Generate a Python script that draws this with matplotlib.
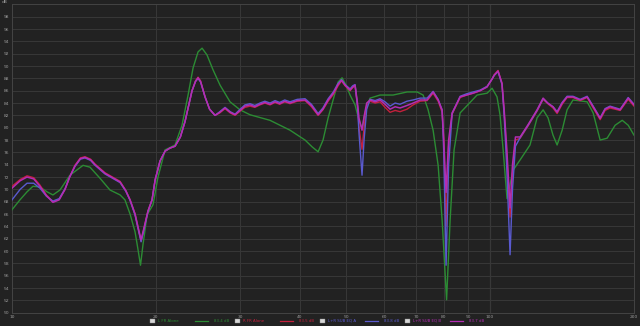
import matplotlib
matplotlib.use("Agg")
import matplotlib.pyplot as plt
from matplotlib.lines import Line2D
from matplotlib.patches import Rectangle

# Frequency grid (Hz) shared by the three EQ'd traces
freq_hz = [10.0, 10.4, 10.75, 11.1, 11.44, 11.8, 12.18, 12.55, 12.91, 13.2,
           13.54, 13.9, 14.21, 14.6, 14.92, 15.65, 16.83, 17.3, 17.66, 18.09,
           18.4, 18.62, 18.85, 19.25, 19.63, 19.92, 20.4, 20.9, 21.4, 21.93,
           22.5, 23.01, 23.4, 23.8, 24.2, 24.5, 24.8, 25.34, 25.9, 26.59,
           27.2, 27.9, 28.6, 29.28, 30.0, 30.7, 31.47, 32.2, 33.0, 33.8,
           34.65, 35.5, 36.3, 37.2, 38.15, 39.5, 41.02, 42.3, 43.68, 44.7,
           45.84, 47.0, 48.09, 48.9, 49.74, 50.95, 51.6, 52.19, 52.8, 53.2,
           53.97, 54.5, 55.2, 56.1, 57.5, 58.86, 60.3, 61.77, 63.3, 64.81,
           67.0, 69.02, 71.39, 73.84, 76.0, 77.87, 79.38, 80.0, 80.9, 81.9,
           83.29, 86.56, 89.3, 92.13, 95.3, 98.56, 100.97, 102.0, 103.9, 105.9,
           107.0, 108.3, 110.1, 111.4, 113.0, 115.6, 120.1, 125.4, 129.1, 132.0,
           135.4, 138.1, 141.5, 144.9, 149.1, 154.3, 159.6, 164.3, 169.9, 174.0,
           178.2, 187.1, 194.5, 200.0]

purple_db = [70.2, 71.4, 72.0, 71.7, 70.5, 69.0, 67.9, 68.3, 70.0, 72.0,
             73.8, 75.0, 75.2, 74.8, 74.0, 72.6, 71.2, 69.8, 68.3, 66.0,
             63.5, 61.8, 63.5, 66.5, 68.3, 71.5, 74.6, 76.2, 76.7, 77.0,
             78.5, 81.0, 83.5, 86.0, 87.5, 88.1, 87.5, 85.0, 83.0, 82.0,
             82.5, 83.2, 82.5, 82.1, 82.8, 83.5, 83.7, 83.4, 83.8, 84.1,
             83.8, 84.2, 83.9, 84.3, 84.0, 84.4, 84.5, 83.6, 82.1, 83.0,
             84.5, 85.6, 87.0, 87.7, 86.9, 86.1, 86.6, 86.9, 84.0, 81.5,
             79.6, 81.8, 84.0, 84.5, 84.2, 84.5, 83.8, 83.0, 83.4, 83.2,
             83.6, 84.0, 84.5, 84.5, 85.8, 84.5, 82.9, 78.0, 69.5, 78.0,
             82.4, 85.0, 85.3, 85.6, 86.0, 86.6, 87.9, 88.5, 89.2, 87.2,
             83.0, 77.0, 67.0, 74.0, 78.5, 78.5, 80.5, 82.9, 84.8, 84.0,
             83.4, 82.5, 84.0, 85.0, 85.0, 84.5, 85.0, 83.4, 81.5, 83.0,
             83.4, 82.9, 84.8, 83.7]

red_db = [70.5, 71.6, 72.2, 71.9, 70.7, 69.1, 68.0, 68.4, 70.0, 72.0,
          73.9, 75.1, 75.3, 74.9, 74.1, 72.7, 71.3, 69.8, 68.3, 66.0,
          63.4, 61.6, 63.4, 66.5, 68.3, 71.5, 74.6, 76.2, 76.7, 77.0,
          78.5, 81.0, 83.5, 86.0, 87.6, 88.2, 87.6, 85.0, 83.0, 82.0,
          82.4, 83.1, 82.4, 82.0, 82.7, 83.3, 83.5, 83.3, 83.7, 84.0,
          83.7, 84.1, 83.8, 84.2, 83.9, 84.3, 84.4, 83.4, 82.0, 82.9,
          84.3, 85.4, 86.8, 87.6, 86.8, 86.0, 86.5, 86.8, 83.5, 80.0,
          76.5, 80.0, 83.6, 84.3, 84.0, 84.2, 83.3, 82.5, 82.8, 82.6,
          83.0, 83.7, 84.3, 84.4, 85.6, 84.3, 82.5, 78.0, 64.0, 77.0,
          82.2, 84.9, 85.3, 85.6, 86.0, 86.7, 87.9, 88.6, 89.3, 87.2,
          82.5, 76.0, 65.5, 72.5, 78.0, 78.3, 80.3, 82.7, 84.6, 83.9,
          83.2, 82.3, 83.8, 84.9, 84.9, 84.4, 84.9, 83.2, 81.3, 82.8,
          83.2, 82.8, 84.6, 83.5]

blue_db = [68.3, 70.0, 71.0, 71.0, 70.2, 68.9, 68.1, 68.5, 70.1, 72.0,
           73.7, 74.9, 75.1, 74.7, 73.9, 72.5, 71.1, 69.7, 68.2, 65.8,
           63.2, 61.5, 63.2, 66.4, 68.3, 71.5, 74.6, 76.2, 76.7, 77.0,
           78.5, 81.0, 83.5, 86.0, 87.5, 88.0, 87.4, 85.0, 83.0, 82.0,
           82.6, 83.3, 82.6, 82.2, 83.0, 83.7, 83.9, 83.6, 84.0, 84.3,
           84.0, 84.4, 84.1, 84.5, 84.2, 84.6, 84.7, 83.8, 82.3, 83.2,
           84.7, 85.8, 87.2, 87.8, 87.0, 86.3, 86.8, 87.0, 83.5, 79.0,
           72.3, 78.0, 83.0, 84.6, 84.4, 84.7, 84.2, 83.5, 84.0, 83.8,
           84.3, 84.5, 84.8, 84.8, 85.9, 84.6, 82.8, 76.0, 57.7, 74.0,
           82.3, 85.1, 85.5, 85.8, 86.1, 86.7, 87.9, 88.5, 89.1, 87.0,
           82.0, 74.0, 59.4, 70.0, 77.0, 78.4, 80.4, 82.8, 84.7, 84.0,
           83.4, 82.6, 84.1, 85.1, 85.1, 84.6, 85.1, 83.5, 81.6, 83.1,
           83.5, 83.0, 84.9, 83.8]

# Un-EQ'd measurement has its own frequency points
green_hz = [10.0, 10.39, 10.75, 11.06, 11.44, 11.84, 12.18, 12.6, 13.22, 14.08,
            14.56, 15.28, 16.03, 16.83, 17.23, 17.66, 18.09, 18.35, 18.57, 18.79,
            19.17, 19.72, 20.2, 20.9, 21.93, 22.68, 23.35, 23.92, 24.5, 24.98,
            25.58, 26.33, 27.24, 28.58, 29.99, 31.47, 34.65, 38.15, 41.02, 42.43,
            43.68, 44.73, 45.84, 46.95, 48.09, 49.02, 49.97, 50.95, 52.19, 53.2,
            53.97, 55.03, 56.1, 58.86, 62.68, 67.06, 70.36, 72.43, 74.19, 76.0,
            77.87, 79.38, 81.1, 82.49, 84.08, 86.56, 93.92, 98.56, 100.97, 103.4,
            104.9, 106.5, 108.5, 111.7, 115.6, 121.2, 125.4, 129.1, 132.2, 135.4,
            138.1, 141.5, 144.9, 149.1, 159.6, 164.3, 169.9, 175.7, 182.6, 189.0,
            194.5, 200.0]
green_db = [66.7, 68.3, 69.6, 70.5, 70.4, 69.6, 69.1, 69.9, 72.3, 73.9,
            73.6, 71.8, 69.9, 69.1, 68.3, 66.0, 63.1, 60.2, 57.7, 61.0,
            65.9, 67.5, 72.0, 76.4, 77.2, 80.4, 85.3, 89.7, 92.3, 92.9,
            91.8, 89.4, 86.9, 84.2, 82.9, 82.1, 81.2, 79.6, 78.0, 76.9,
            76.1, 78.0, 81.6, 84.5, 87.4, 88.1, 86.9, 85.3, 83.7, 81.2,
            79.9, 83.2, 84.8, 85.3, 85.3, 85.8, 85.8, 85.3, 82.9, 79.6,
            73.9, 65.0, 52.1, 65.0, 76.4, 82.4, 85.3, 85.6, 86.4, 85.0,
            82.1, 76.4, 68.5, 73.1, 74.8, 77.2, 81.6, 82.9, 81.6, 78.8,
            77.2, 79.6, 82.9, 84.5, 84.2, 82.4, 78.0, 78.3, 80.4, 81.2,
            80.4, 78.8]

x_ticks = [10, 20, 30, 40, 50, 60, 70, 80, 90, 100, 200]
y_ticks = list(range(50, 100, 2))

legend_labels = ["L FR Alone", "R FR Alone", "L+R SUB EQ A", "L+R SUB EQ B"]
legend_values = ["83.4 dB", "83.5 dB", "83.8 dB", "83.7 dB"]
colors = ["#2c8c34", "#c4203c", "#5a5ad0", "#b42cb4"]

BG = "#222222"
fig = plt.figure(figsize=(6.4, 3.26), dpi=100, facecolor=BG)
ax = fig.add_axes([12 / 640, 13.3 / 326, 622 / 640, 308.3 / 326], facecolor=BG)

ax.plot(green_hz, green_db, color=colors[0], lw=1.0, zorder=3)
ax.plot(freq_hz, red_db, color=colors[1], lw=1.0, zorder=4)
ax.plot(freq_hz, blue_db, color=colors[2], lw=1.0, zorder=5)
ax.plot(freq_hz, purple_db, color=colors[3], lw=1.1, zorder=6)

ax.set_xscale("log")
ax.set_xlim(10, 200)
ax.set_ylim(50, 100)
ax.set_xticks(x_ticks)
ax.set_xticklabels([str(t) for t in x_ticks])
ax.xaxis.set_minor_locator(matplotlib.ticker.NullLocator())
ax.set_yticks(y_ticks)
ax.set_yticklabels([str(t) for t in y_ticks])
ax.tick_params(length=0, labelsize=3.2, colors="#9a9a9a", pad=2)

ax.grid(True, color="#383838", lw=0.7)
ax.axvline(100, color="#555555", lw=0.8, zorder=1)
for side in ax.spines.values():
    side.set_color("#444444")
    side.set_linewidth(0.7)

fig.text(5 / 640, 1 - 2 / 326, "dB", color="#9a9a9a", fontsize=3.2, va="center", ha="center")

# legend row along the bottom edge
y_leg = 1 - 321 / 326
for i, (lab, val, c) in enumerate(zip(legend_labels, legend_values, colors)):
    x0 = 152 + 85 * i
    fig.patches.append(Rectangle(((x0 - 2) / 640, y_leg - 2.2 / 326), 4.5 / 640, 4.5 / 326,
                                 transform=fig.transFigure, facecolor="#d8d8d8",
                                 edgecolor="#888888", lw=0.3))
    fig.text((x0 + 6) / 640, y_leg, lab, color=c, fontsize=2.8, va="center", ha="left")
    fig.lines.append(Line2D([(x0 + 43) / 640, (x0 + 56) / 640], [y_leg, y_leg],
                            transform=fig.transFigure, color=c, lw=0.9))
    fig.text((x0 + 62) / 640, y_leg, val, color=c, fontsize=2.8, va="center", ha="left")

fig.savefig("out.png", dpi=100, facecolor=BG)
